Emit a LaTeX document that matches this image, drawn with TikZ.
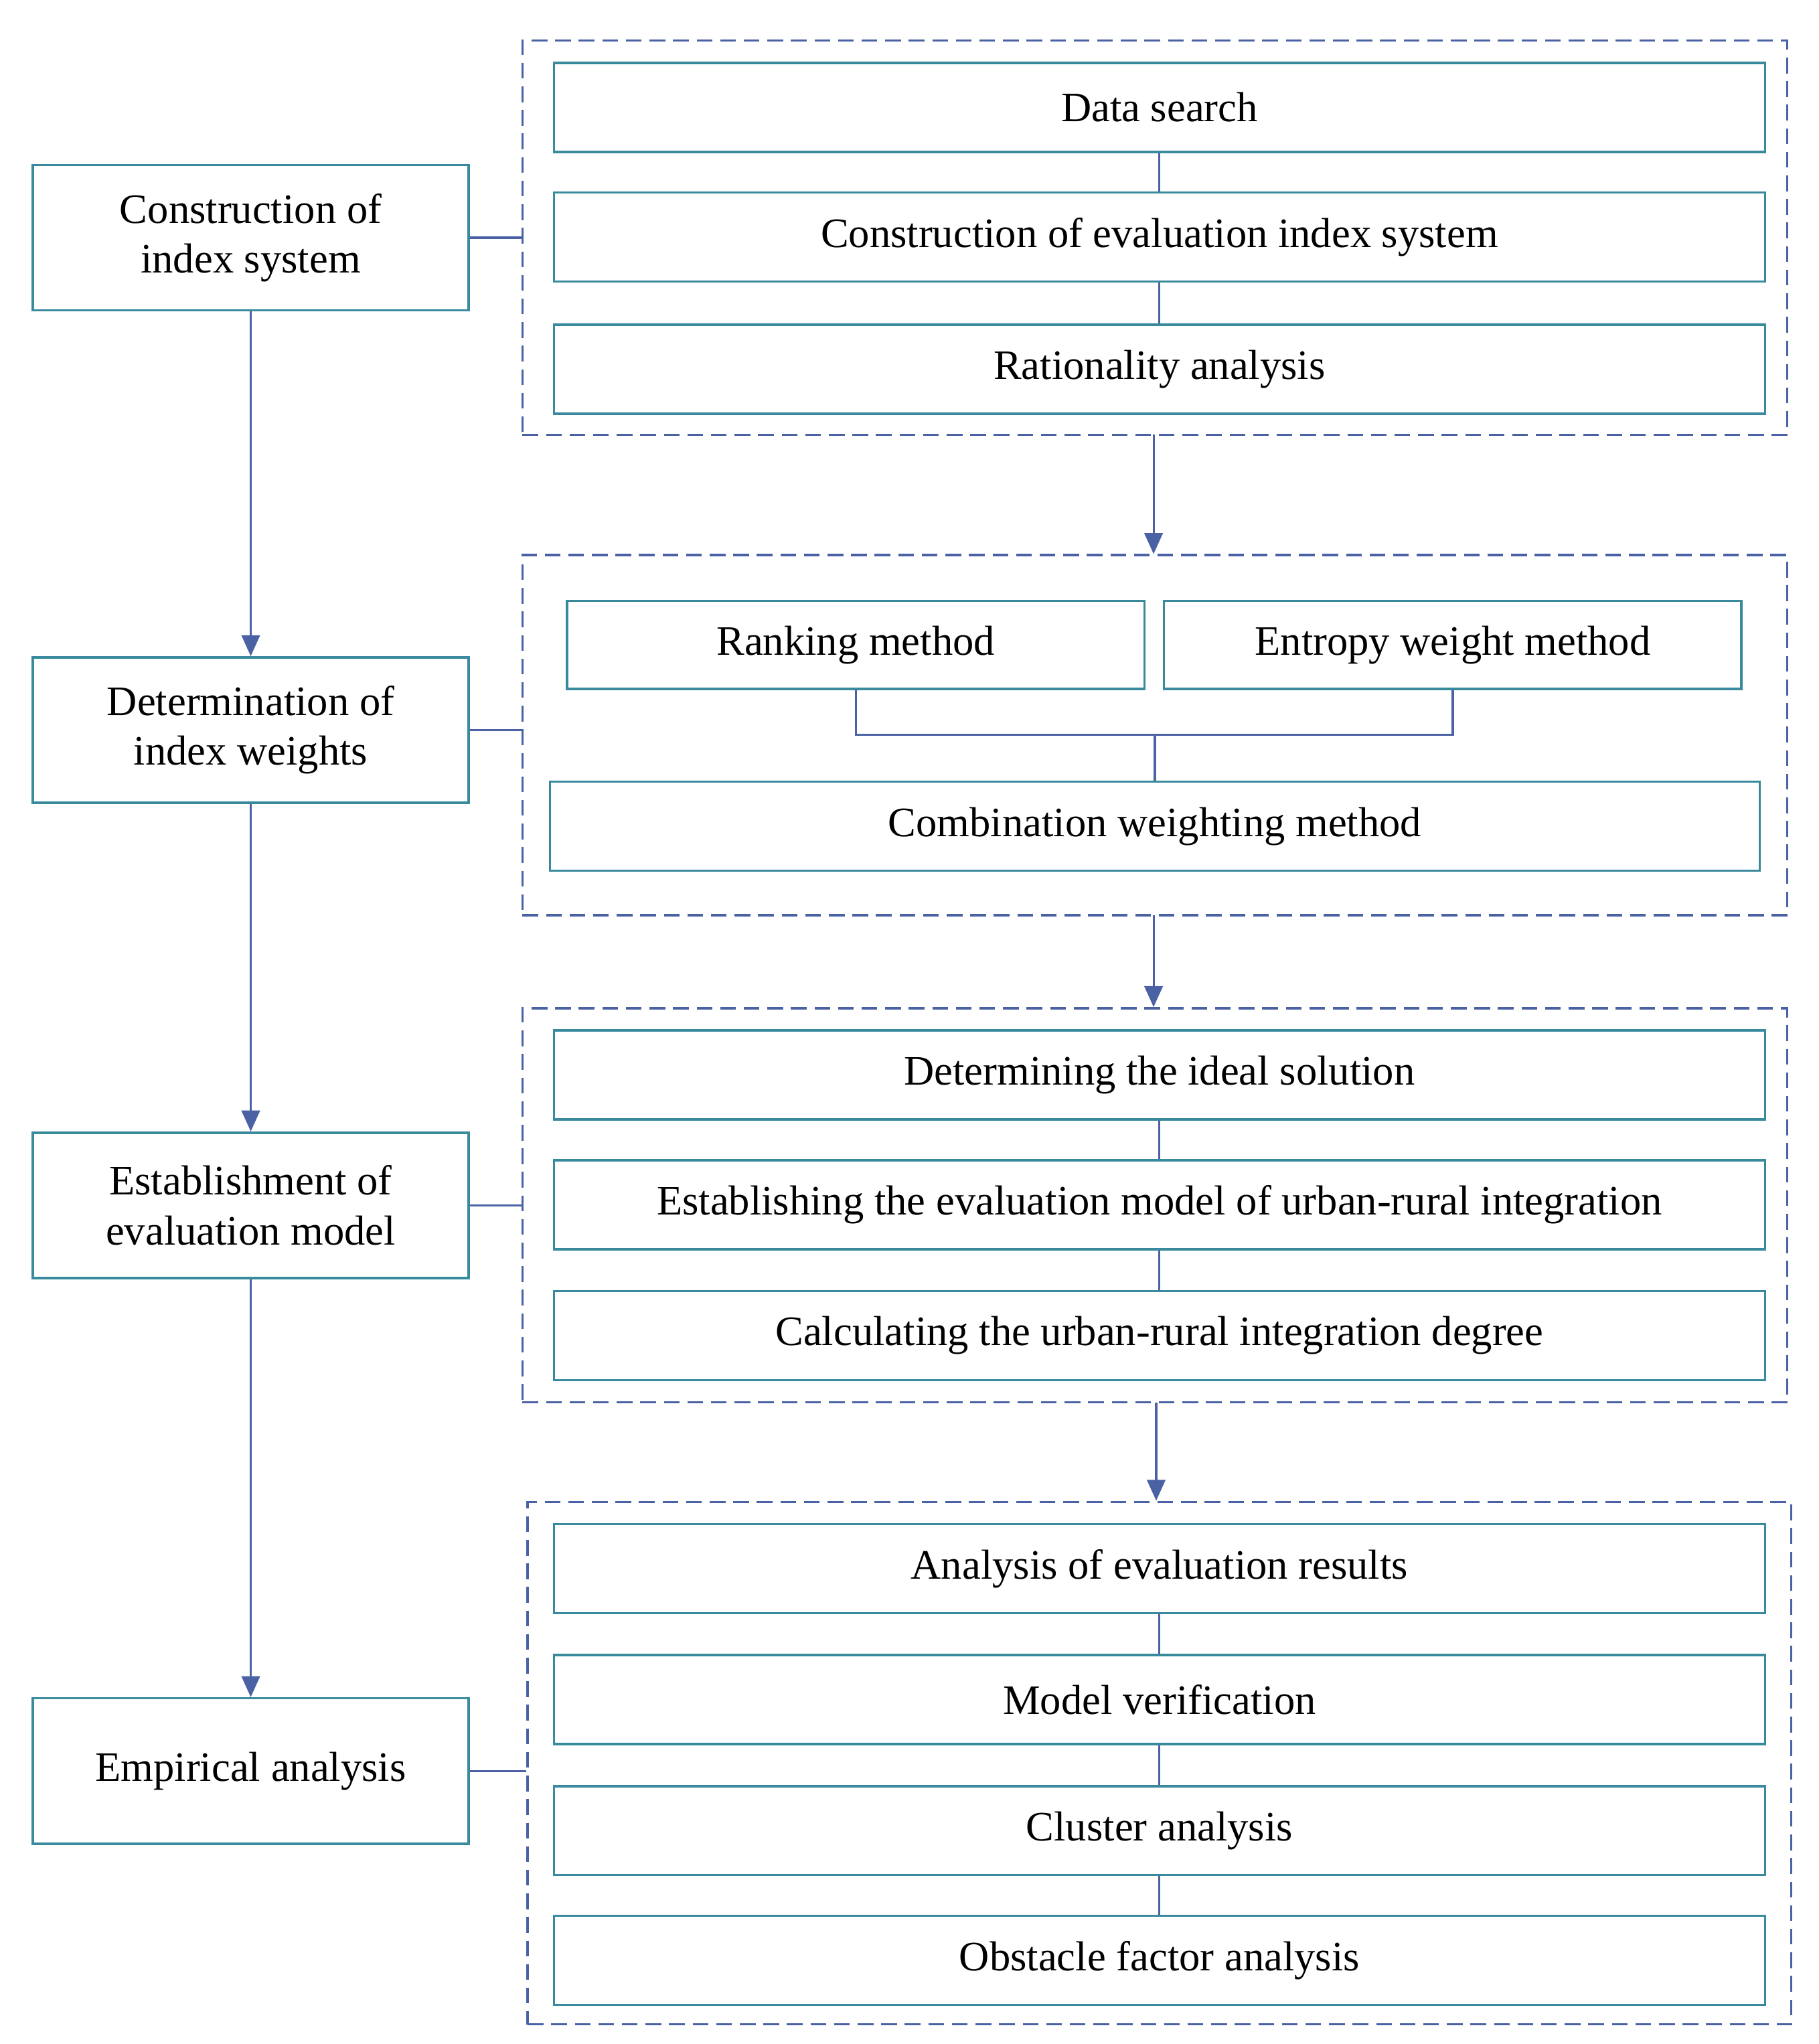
\documentclass[tikz,border=0pt]{standalone}
\usepackage{fontspec}
\setmainfont{Liberation Serif}
\usetikzlibrary{arrows.meta}
\definecolor{bxc}{HTML}{3A8A9E}
\definecolor{lnc}{HTML}{4A62A4}
\newcommand\mybox[7][bx]{%
  \pgfmathsetmacro\cx{(#3+#5)/2}\pgfmathsetmacro\cy{(#4+#6)/2}%
  \pgfmathsetmacro\ww{(#5-#3)*0.5}\pgfmathsetmacro\hh{(#6-#4)*0.5}%
  \node[#1,minimum width=\ww pt,minimum height=\hh pt] (#2) at (\cx,\cy) {#7};}
\tikzset{
  bx/.style={draw=bxc,line width=0.9pt,inner sep=0pt,align=center,font=\fontsize{16}{19}\selectfont},
  grp/.style={draw=lnc,line width=0.9pt,dash pattern=on 6pt off 3pt,inner sep=0pt},
  ln/.style={draw=lnc,line width=0.8pt},
  ar/.style={ln,-{Triangle[length=8pt,width=7pt]}}
}
\begin{document}
\begin{tikzpicture}[x=0.5pt,y=-0.5pt]
\useasboundingbox (0,0) rectangle (1389,1561);
% left boxes
\mybox{L1}{25}{126}{358}{237}{Construction of\\index system}
\mybox{L2}{25}{502}{358}{613}{Determination of\\index weights}
\mybox{L3}{25}{865}{358}{976}{Establishment of\\evaluation model}
\mybox{L4}{25}{1297}{358}{1408}{Empirical analysis}
% groups
\mybox[grp]{G1}{399}{31}{1365}{332}{}
\mybox[grp]{G2}{399}{424}{1365}{699}{}
\mybox[grp]{G3}{399}{770}{1365}{1071}{}
\mybox[grp]{G4}{403}{1147}{1368}{1546}{}
% G1
\mybox{A1}{423}{48}{1348}{116}{Data search}
\mybox{A2}{423}{147}{1348}{215}{Construction of evaluation index system}
\mybox{A3}{423}{248}{1348}{316}{Rationality analysis}
% G2
\mybox{B1}{433}{459}{874}{526}{Ranking method}
\mybox{B2}{889}{459}{1330}{526}{Entropy weight method}
\mybox{B3}{420}{597}{1344}{665}{Combination weighting method}
% G3
\mybox{C1}{423}{787}{1348}{855}{Determining the ideal solution}
\mybox{C2}{423}{886}{1348}{954}{Establishing the evaluation model of urban-rural integration}
\mybox{C3}{423}{986}{1348}{1054}{Calculating the urban-rural integration degree}
% G4
\mybox{D1}{423}{1164}{1348}{1232}{Analysis of evaluation results}
\mybox{D2}{423}{1264}{1348}{1332}{Model verification}
\mybox{D3}{423}{1364}{1348}{1432}{Cluster analysis}
\mybox{D4}{423}{1463}{1348}{1531}{Obstacle factor analysis}
% inner links
\draw[ln] (A1) -- (A2); \draw[ln] (A2) -- (A3);
\draw[ln] (C1) -- (C2); \draw[ln] (C2) -- (C3);
\draw[ln] (D1) -- (D2); \draw[ln] (D2) -- (D3); \draw[ln] (D3) -- (D4);
\coordinate (J) at (882,561);
\draw[ln] (B1.south) |- (J) -| (B2.south);
\draw[ln] (J) -- (J|-B3.north);
% left arrows
\draw[ar] (L1) -- (L2); \draw[ar] (L2) -- (L3); \draw[ar] (L3) -- (L4);
% horizontal links
\draw[ln] (L1.east) -- (L1.east-|G1.west);
\draw[ln] (L2.east) -- (L2.east-|G2.west);
\draw[ln] (L3.east) -- (L3.east-|G3.west);
\draw[ln] (L4.east) -- (L4.east-|G4.west);
% group arrows
\coordinate (p1) at (881,332); \coordinate (p2) at (881,699); \coordinate (p3) at (883,1071);
\draw[ar] (p1) -- (p1|-G2.north);
\draw[ar] (p2) -- (p2|-G3.north);
\draw[ar] (p3) -- (p3|-G4.north);
\end{tikzpicture}
\end{document}
